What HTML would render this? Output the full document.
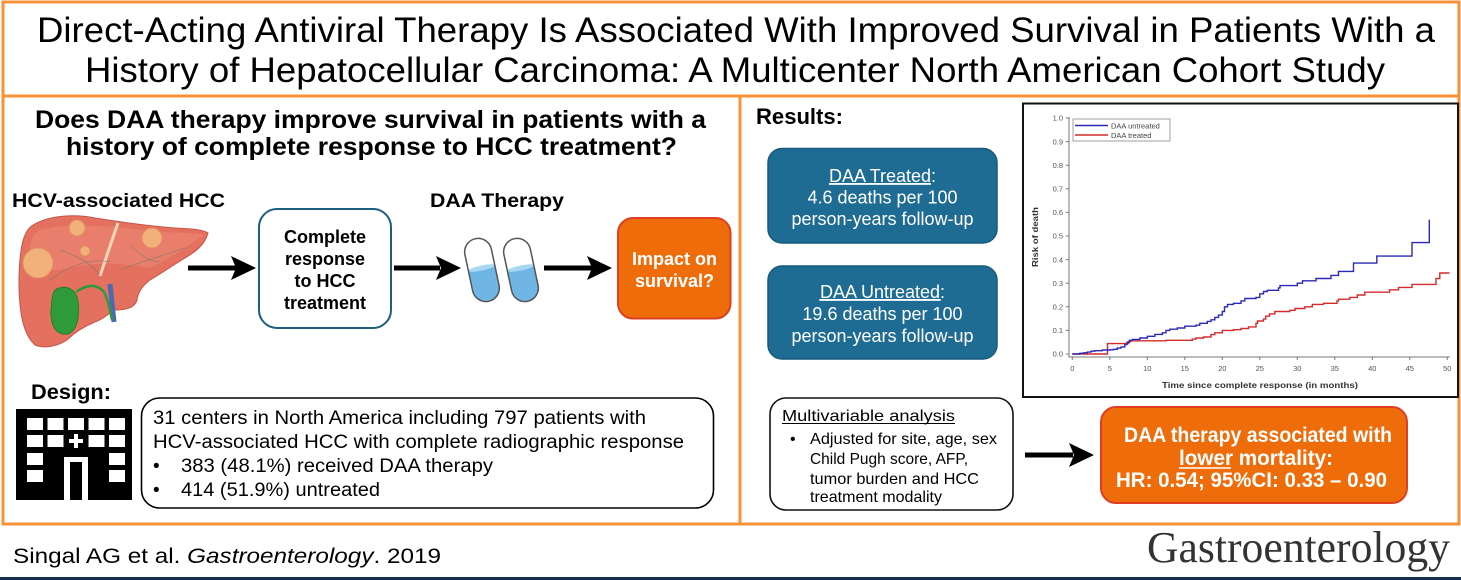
<!DOCTYPE html>
<html><head><meta charset="utf-8">
<style>
html,body{margin:0;padding:0;background:#fff;}
svg{display:block;}
text{font-family:"Liberation Sans",Arial,sans-serif;}
.b{font-weight:bold;}
</style></head>
<body>
<svg width="1461" height="580" viewBox="0 0 1461 580" xmlns="http://www.w3.org/2000/svg">
<rect x="0" y="0" width="1461" height="580" fill="#fff"/>
<!-- frame -->
<rect x="3" y="2" width="1456" height="522" fill="none" stroke="#f7923a" stroke-width="3"/>
<line x1="3" y1="96" x2="1459" y2="96" stroke="#f7923a" stroke-width="3"/>
<line x1="740" y1="96" x2="740" y2="524" stroke="#f7923a" stroke-width="3"/>
<rect x="0" y="577" width="1461" height="3" fill="#17304a"/>

<!-- title -->
<text x="37" y="42" font-size="35" textLength="1398" lengthAdjust="spacingAndGlyphs" fill="#000">Direct-Acting Antiviral Therapy Is Associated With Improved Survival in Patients With a</text>
<text x="85" y="82" font-size="35" textLength="1300" lengthAdjust="spacingAndGlyphs" fill="#000">History of Hepatocellular Carcinoma: A Multicenter North American Cohort Study</text>

<!-- left panel -->
<text class="b" x="35" y="128" font-size="25" textLength="671" lengthAdjust="spacingAndGlyphs">Does DAA therapy improve survival in patients with a</text>
<text class="b" x="66" y="155" font-size="25" textLength="611" lengthAdjust="spacingAndGlyphs">history of complete response to HCC treatment?</text>
<text class="b" x="12" y="207" font-size="19" textLength="213" lengthAdjust="spacingAndGlyphs">HCV-associated HCC</text>
<text class="b" x="430" y="207" font-size="19" textLength="134" lengthAdjust="spacingAndGlyphs">DAA Therapy</text>

<!-- liver -->
<g>
<path d="M33,225 C50,215 75,214 95,218 C120,222 150,226 175,228 C190,229 202,229 208,233 C205,245 195,252 185,258 C172,266 160,274 150,280 C142,286 138,292 137,300 C135,308 125,310 115,310 C108,314 102,320 95,322 C85,326 75,332 67,340 C58,346 45,349 35,345 C27,338 22,325 20,305 C18,285 19,260 22,245 C24,235 28,228 33,225 Z" fill="#e4705f" stroke="#c65448" stroke-width="1"/>
<path d="M40,230 C70,222 110,226 150,231 C175,233 195,233 204,235 C190,245 170,258 150,268 C120,262 90,262 60,270 C45,272 32,262 30,250 C30,240 34,233 40,230 Z" fill="#ec8574" opacity="0.7"/>
<path d="M118,223 C112,240 106,258 100,276" stroke="#f3d8b8" stroke-width="3" fill="none"/>
<path d="M50,280 C70,265 90,258 110,262 M60,250 C75,255 90,262 100,275 M130,245 C140,255 150,262 160,262 M120,270 C140,262 165,255 185,248" stroke="#7a7a6a" stroke-width="0.8" fill="none" opacity="0.7"/>
<path d="M110,284 L114,322" stroke="#4a6ab0" stroke-width="5" fill="none"/>
<path d="M76,292 C85,286 95,282 104,292 C108,300 110,310 112,320" stroke="#2f9a3a" stroke-width="2.5" fill="none"/>
<path d="M55,290 C65,284 75,288 78,300 C80,315 78,330 68,334 C56,336 50,325 51,310 C52,300 52,294 55,290 Z" fill="#2f9a3a" stroke="#1f7a2a" stroke-width="0.8"/>
<circle cx="38" cy="263" r="15" fill="#f2b07a" stroke="#e09060"/>
<circle cx="77" cy="228" r="8" fill="#f2b07a" stroke="#e09060"/>
<circle cx="85" cy="251" r="5" fill="#f2b07a" stroke="#e09060"/>
<circle cx="152" cy="238" r="10" fill="#f2b07a" stroke="#e09060"/>
</g>

<!-- arrows -->
<rect x="188" y="265.5" width="48" height="5" fill="#000"/>
<polygon points="256,268 231,256 236,268 231,280" fill="#000"/>
<rect x="394" y="265.5" width="46" height="5" fill="#000"/>
<polygon points="461,268 436,256 441,268 436,280" fill="#000"/>
<rect x="544" y="265.5" width="48" height="5" fill="#000"/>
<polygon points="612,268 587,256 592,268 587,280" fill="#000"/>

<!-- complete box -->
<rect x="259" y="209" width="132" height="119" rx="18" fill="#fff" stroke="#1d5e7f" stroke-width="2"/>
<g class="b" font-size="18" text-anchor="middle" font-weight="bold">
<text x="325" y="243">Complete</text>
<text x="325" y="265">response</text>
<text x="325" y="287">to HCC</text>
<text x="325" y="309">treatment</text>
</g>

<!-- pills -->
<defs>
<clipPath id="p1"><rect x="-13.5" y="-32" width="27" height="64" rx="13.5"/></clipPath>
</defs>
<g transform="translate(482,270) rotate(-12)">
<rect x="-13.5" y="-32" width="27" height="64" rx="13.5" fill="#fff"/>
<g clip-path="url(#p1)"><rect x="-20" y="-2" width="40" height="40" fill="#6fb6e4"/><ellipse cx="0" cy="-2" rx="14" ry="2.5" fill="#a9d7f2"/></g>
<rect x="-13.5" y="-32" width="27" height="64" rx="13.5" fill="none" stroke="#555" stroke-width="1.5"/>
</g>
<g transform="translate(521,270) rotate(-12)">
<rect x="-13.5" y="-32" width="27" height="64" rx="13.5" fill="#fff"/>
<g clip-path="url(#p1)"><rect x="-20" y="-2" width="40" height="40" fill="#6fb6e4"/><ellipse cx="0" cy="-2" rx="14" ry="2.5" fill="#a9d7f2"/></g>
<rect x="-13.5" y="-32" width="27" height="64" rx="13.5" fill="none" stroke="#555" stroke-width="1.5"/>
</g>

<!-- impact box -->
<rect x="618" y="218" width="112.5" height="100.5" rx="15" fill="#ef6c0a" stroke="#de3f22" stroke-width="2"/>
<g font-size="18" text-anchor="middle" fill="#fff" font-weight="bold">
<text x="674.5" y="265">Impact on</text>
<text x="674.5" y="287">survival?</text>
</g>

<!-- design -->
<text class="b" x="31" y="399" font-size="21" textLength="80" lengthAdjust="spacingAndGlyphs">Design:</text>
<rect x="16" y="409" width="116" height="91" fill="#000"/>
<g fill="#fff">
<rect x="27" y="418" width="16" height="12"/><rect x="47.5" y="418" width="16" height="12"/><rect x="68" y="418" width="16" height="12"/><rect x="88.5" y="418" width="16" height="12"/><rect x="109" y="418" width="16" height="12"/>
<rect x="27" y="435" width="16" height="12"/><rect x="47.5" y="435" width="16" height="12"/><rect x="88.5" y="435" width="16" height="12"/><rect x="109" y="435" width="16" height="12"/>
<rect x="74" y="434" width="4" height="14"/><rect x="69" y="439" width="14" height="4"/>
<rect x="27" y="453" width="16" height="12"/><rect x="109" y="453" width="16" height="12"/>
<rect x="27" y="470" width="16" height="12"/><rect x="109" y="470" width="16" height="12"/>
<rect x="64" y="457" width="24" height="43"/>
</g>
<rect x="70" y="462" width="12" height="38" fill="#000"/>

<rect x="141.5" y="398" width="572" height="110" rx="18" fill="none" stroke="#000" stroke-width="1.6"/>
<g font-size="19">
<text x="153" y="424" textLength="493" lengthAdjust="spacingAndGlyphs">31 centers in North America including 797 patients with</text>
<text x="153" y="448" textLength="531" lengthAdjust="spacingAndGlyphs">HCV-associated HCC with complete radiographic response</text>
<text x="153" y="472">•</text>
<text x="181" y="472" textLength="312" lengthAdjust="spacingAndGlyphs">383 (48.1%) received DAA therapy</text>
<text x="153" y="496">•</text>
<text x="181" y="496" textLength="199" lengthAdjust="spacingAndGlyphs">414 (51.9%) untreated</text>
</g>

<!-- footer -->
<text x="13" y="563" font-size="21" textLength="428" lengthAdjust="spacingAndGlyphs">Singal AG et al. <tspan font-style="italic">Gastroenterology</tspan>. 2019</text>
<text x="1147" y="562" font-size="44" font-family="'Liberation Serif',serif" style="font-family:'Liberation Serif',serif" fill="#333" textLength="303" lengthAdjust="spacingAndGlyphs">Gastroenterology</text>

<!-- results -->
<text class="b" x="756" y="124" font-size="22" textLength="87" lengthAdjust="spacingAndGlyphs">Results:</text>
<rect x="768" y="148.5" width="229" height="94.5" rx="14" fill="#1e6c94" stroke="#175a7c" stroke-width="1.5"/>
<rect x="768" y="266" width="229" height="93" rx="14" fill="#1e6c94" stroke="#175a7c" stroke-width="1.5"/>
<g font-size="18" fill="#fff" text-anchor="middle">
<text x="882.5" y="182"><tspan text-decoration="underline">DAA Treated</tspan>:</text>
<text x="882.5" y="203.5">4.6 deaths per 100</text>
<text x="882.5" y="225">person-years follow-up</text>
<text x="882.5" y="298"><tspan text-decoration="underline">DAA Untreated</tspan>:</text>
<text x="882.5" y="320">19.6 deaths per 100</text>
<text x="882.5" y="342">person-years follow-up</text>
</g>
<line x1="829" y1="184" x2="926" y2="184" stroke="#fff" stroke-width="1.2"/>
<line x1="819" y1="300" x2="941" y2="300" stroke="#fff" stroke-width="1.2"/>

<!-- chart -->
<rect x="1023" y="103.5" width="435" height="293.5" fill="#fff" stroke="#111" stroke-width="2"/>
<g stroke="#777" stroke-width="1" fill="none">
<line x1="1069" y1="117" x2="1069" y2="357.5"/>
<line x1="1069" y1="357" x2="1450" y2="357"/>
<path d="M1066,354H1069M1066,330.4H1069M1066,306.8H1069M1066,283.2H1069M1066,259.6H1069M1066,236H1069M1066,212.4H1069M1066,188.8H1069M1066,165.2H1069M1066,141.6H1069M1066,118H1069"/>
<path d="M1072.3,357V360M1109.8,357V360M1147.3,357V360M1184.8,357V360M1222.3,357V360M1259.8,357V360M1297.3,357V360M1334.8,357V360M1372.3,357V360M1409.8,357V360M1447.3,357V360"/>
</g>
<g font-size="7.5" fill="#555" text-anchor="end">
<text x="1063" y="356.7">0.0</text><text x="1063" y="333.1">0.1</text><text x="1063" y="309.5">0.2</text><text x="1063" y="285.9">0.3</text><text x="1063" y="262.3">0.4</text><text x="1063" y="238.7">0.5</text><text x="1063" y="215.1">0.6</text><text x="1063" y="191.5">0.7</text><text x="1063" y="167.9">0.8</text><text x="1063" y="144.3">0.9</text><text x="1063" y="120.7">1.0</text>
</g>
<g font-size="7.5" fill="#555" text-anchor="middle">
<text x="1072.3" y="371">0</text><text x="1109.8" y="371">5</text><text x="1147.3" y="371">10</text><text x="1184.8" y="371">15</text><text x="1222.3" y="371">20</text><text x="1259.8" y="371">25</text><text x="1297.3" y="371">30</text><text x="1334.8" y="371">35</text><text x="1372.3" y="371">40</text><text x="1409.8" y="371">45</text><text x="1447.3" y="371">50</text>
</g>
<text x="1260" y="388" font-size="8.5" font-weight="bold" fill="#333" text-anchor="middle" textLength="196" lengthAdjust="spacingAndGlyphs">Time since complete response (in months)</text>
<text transform="translate(1038,237) rotate(-90)" font-size="8.5" font-weight="bold" fill="#333" text-anchor="middle" textLength="60" lengthAdjust="spacingAndGlyphs">Risk of death</text>

<path d="M1072.3,354 H1107.5 V343.6 H1128.5 V341.7 H1130.8 V340.8 H1166 V340.3 H1192.3 V339.1 H1196 V338 H1203.5 V337 H1211 V334.6 H1214.8 V332.8 H1222.3 V330.4 H1233.5 V329.7 H1241 V328.5 H1248.5 V326.9 H1256 V323.3 H1257.5 V321 H1263.5 V319.1 H1265.8 V316.2 H1269.5 V313.9 H1274.8 V311.5 H1289.8 V310.3 H1295 V308.5 H1304.8 V306.8 H1312.3 V304.4 H1323.5 V303.3 H1337 V300.9 H1338.5 V299.2 H1349.8 V297.4 H1357.3 V295 H1364.8 V292.2 H1389.5 V289.8 H1398.5 V287.4 H1412 V284.4 H1436 V278.5 H1439.8 V273 H1449.5" fill="none" stroke="#d42a2a" stroke-width="1.4"/>
<path d="M1072.3,354 H1079.8 V353.3 H1083.5 V352.8 H1087.3 V352.1 H1091 V351.2 H1094.8 V350.7 H1102.3 V350 H1109.8 V349.8 H1113.5 V349.3 H1117.3 V348.1 H1121 V346.9 H1124.8 V344.6 H1127 V342.2 H1129.3 V340.3 H1132.3 V339.4 H1139.8 V338 H1147.3 V336.3 H1154.8 V334.4 H1162.3 V332.8 H1166 V330.4 H1169.8 V329.2 H1177.3 V328 H1184.8 V326.2 H1196 V325.2 H1199.8 V323.3 H1207.3 V321.4 H1211 V319.8 H1214.8 V317.4 H1218.5 V315.1 H1222.3 V311.5 H1224.5 V306.8 H1227.5 V304.4 H1233.5 V303.3 H1241 V300.9 H1244.8 V298.5 H1256 V297.4 H1259.8 V293.8 H1263.5 V291.5 H1267.3 V290.3 H1278.5 V287.9 H1280 V285.6 H1297.3 V283.2 H1302.5 V280.8 H1316 V278.5 H1331 V275.4 H1338.5 V271.4 H1353.5 V263.1 H1376.8 V256.1 H1412 V242.6 H1429.3 V219.7" fill="none" stroke="#2a2ab8" stroke-width="1.4"/>

<rect x="1073" y="119" width="97" height="22" fill="#fff" stroke="#888" stroke-width="0.8"/>
<line x1="1075" y1="125.5" x2="1108" y2="125.5" stroke="#2a2ab8" stroke-width="1.4"/>
<line x1="1075" y1="135" x2="1108" y2="135" stroke="#d42a2a" stroke-width="1.4"/>
<text x="1111" y="128.3" font-size="7.5" fill="#444">DAA untreated</text>
<text x="1111" y="137.8" font-size="7.5" fill="#444">DAA treated</text>

<!-- multivariable -->
<rect x="770" y="398" width="243" height="112" rx="16" fill="#fff" stroke="#111" stroke-width="1.6"/>
<text x="782" y="421" font-size="16" textLength="173" lengthAdjust="spacingAndGlyphs">Multivariable analysis</text>
<line x1="782" y1="423.5" x2="955" y2="423.5" stroke="#000" stroke-width="1"/>
<g font-size="16">
<text x="790" y="444">•</text>
<text x="810" y="444" textLength="187" lengthAdjust="spacingAndGlyphs">Adjusted for site, age, sex</text>
<text x="810" y="464" textLength="158" lengthAdjust="spacingAndGlyphs">Child Pugh score, AFP,</text>
<text x="810" y="484" textLength="169" lengthAdjust="spacingAndGlyphs">tumor burden and HCC</text>
<text x="810" y="502" textLength="132" lengthAdjust="spacingAndGlyphs">treatment modality</text>
</g>

<rect x="1025" y="452.5" width="48" height="5" fill="#000"/>
<polygon points="1094,455 1069,443 1074,455 1069,467" fill="#000"/>

<rect x="1101" y="407" width="306" height="96" rx="15" fill="#ef6c0a" stroke="#de3f22" stroke-width="2"/>
<g font-size="21" font-weight="bold" fill="#fff">
<text x="1124" y="442" textLength="268" lengthAdjust="spacingAndGlyphs">DAA therapy associated with</text>
<text x="1179" y="465" textLength="154" lengthAdjust="spacingAndGlyphs">lower mortality:</text>
<text x="1116" y="487" textLength="271" lengthAdjust="spacingAndGlyphs">HR: 0.54; 95%CI: 0.33 – 0.90</text>
</g>
<line x1="1179" y1="468" x2="1231" y2="468" stroke="#fff" stroke-width="1.5"/>
</svg>
</body></html>
